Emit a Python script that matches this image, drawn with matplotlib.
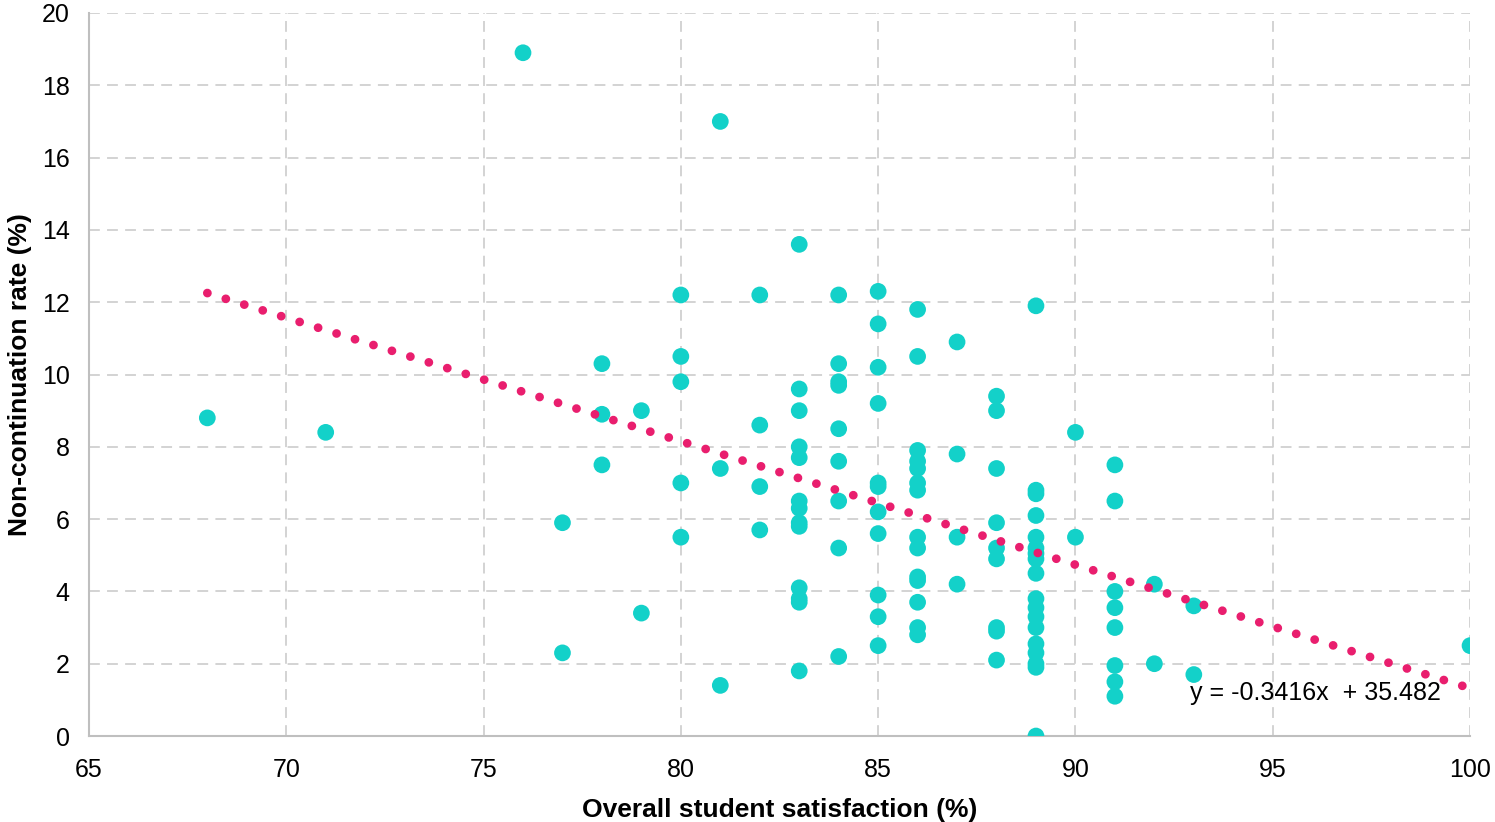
import numpy as np
import matplotlib
matplotlib.use("Agg")
import matplotlib.pyplot as plt

plt.rcParams["font.family"] = ["Liberation Sans", "DejaVu Sans"]

# satisfaction (%) column values and the non-continuation rates seen at each
SATISFACTION = [68, 71, 76, 77, 78, 79, 80, 81, 82, 83, 84, 85, 86, 87, 88, 89, 90, 91, 92, 93, 100]
NONCONT = [
    [8.8],
    [8.4],
    [18.9],
    [5.9, 2.3],
    [10.3, 8.9, 7.5],
    [9.0, 3.4],
    [12.2, 10.5, 9.8, 7.0, 5.5],
    [17.0, 7.4, 1.4],
    [12.2, 8.6, 6.9, 5.7],
    [13.6, 9.6, 9.0, 8.0, 7.7, 6.5, 6.3, 5.9, 5.8, 4.1, 3.8, 3.7, 1.8],
    [12.2, 10.3, 9.8, 9.7, 8.5, 7.6, 6.5, 5.2, 2.2],
    [12.3, 11.4, 10.2, 9.2, 7.0, 6.9, 6.2, 5.6, 3.9, 3.3, 2.5],
    [11.8, 10.5, 7.9, 7.6, 7.4, 7.0, 6.8, 5.5, 5.2, 4.4, 4.3, 3.7, 3.0, 2.8],
    [10.9, 7.8, 5.5, 4.2],
    [9.4, 9.0, 7.4, 5.9, 5.2, 4.9, 3.0, 2.9, 2.1],
    [11.9, 6.8, 6.7, 6.1, 5.5, 5.2, 5.05, 4.9, 4.5, 3.8, 3.55, 3.3, 3.0, 2.55, 2.3, 2.0, 1.9, 0.0],
    [8.4, 5.5],
    [7.5, 6.5, 4.0, 3.55, 3.0, 1.95, 1.5, 1.1],
    [4.2, 2.0],
    [3.6, 1.7],
    [2.5],
]

SLOPE = -0.3416
INTERCEPT = 35.482
EQUATION = "y = -0.3416x  + 35.482"

POINT_COLOR = "#13D1C9"
TREND_COLOR = "#E91E6E"

xs = [s for s, col in zip(SATISFACTION, NONCONT) for _ in col]
ys = [v for col in NONCONT for v in col]

fig = plt.figure(figsize=(14.95, 8.22), dpi=100)
ax = fig.add_axes([0.0595, 0.1046, 0.9238, 0.8796])

ax.scatter(xs, ys, s=145, color=POINT_COLOR, edgecolors="none", zorder=3)

tx = np.array([min(SATISFACTION), max(SATISFACTION)])
ax.plot(tx, SLOPE * tx + INTERCEPT, color=TREND_COLOR, linewidth=6.3,
        linestyle=(0, (0.01, 2.2)), dash_capstyle="round", zorder=4)

ax.text(92.9, 1.2, EQUATION, fontsize=18, ha="left", va="center", color="#000000", zorder=5)

ax.set_xlim(65, 100)
ax.set_ylim(0, 20)
ax.set_xticks(range(65, 101, 5))
ax.set_yticks(range(0, 21, 2))

ax.grid(True, color="#D0D0D0", linestyle=(0, (6, 4)), linewidth=1.3)
ax.set_axisbelow(True)
for side in ("top", "right"):
    ax.spines[side].set_visible(False)
for side in ("left", "bottom"):
    ax.spines[side].set_color("#BFBFBF")
    ax.spines[side].set_linewidth(1.5)

ax.tick_params(axis="both", length=0, labelsize=18)
ax.tick_params(axis="y", pad=14)
ax.tick_params(axis="x", pad=16)

ax.set_xlabel("Overall student satisfaction (%)", fontsize=19, fontweight="bold", labelpad=11)
ax.set_ylabel("Non-continuation rate (%)", fontsize=19, fontweight="bold", labelpad=7)

fig.savefig("out.png", dpi=100)
